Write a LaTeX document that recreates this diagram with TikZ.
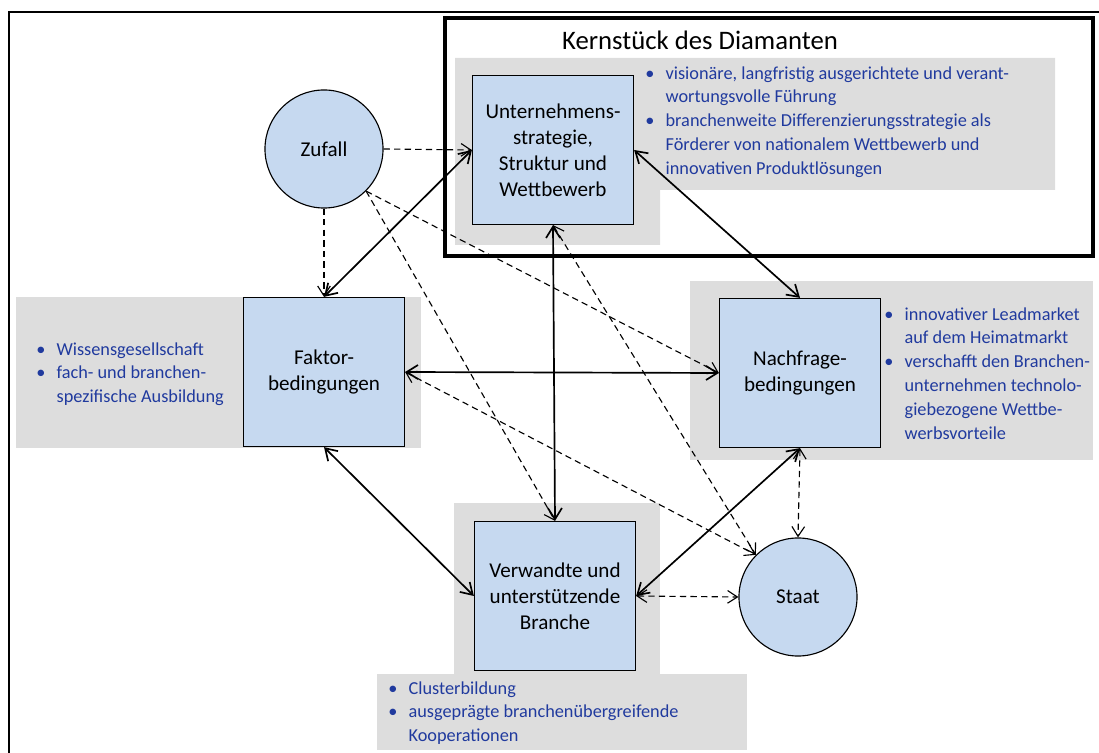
\documentclass[tikz,border=0pt]{standalone}
\usepackage{fontspec}
\setmainfont{Carlito}
\usetikzlibrary{arrows.meta}
\definecolor{boxblue}{RGB}{198,217,240}
\definecolor{panelgray}{RGB}{221,221,221}
\definecolor{bullblue}{RGB}{32,58,158}
\newcommand{\bultext}[1]{{\fontsize{13}{17}\selectfont\begin{tabular}{@{}l@{\hspace{8pt}}l@{}}#1\end{tabular}}}
\begin{document}
\begin{tikzpicture}[x=0.025cm,y=-0.025cm,
	kasten/.style={draw, line width=1pt, fill=boxblue, minimum width=4.02cm, minimum height=3.72cm, align=center, font=\fontsize{15}{18.5}\selectfont},
	kreis/.style={draw, line width=0.8pt, fill=boxblue, circle, minimum size=2.95cm, font=\fontsize{15}{18}\selectfont},
	liste/.style={anchor=north west, inner sep=0pt, text=bullblue},
	wirkung/.style={{Straight Barb[length=8pt,width=10pt]}-{Straight Barb[length=8pt,width=10pt]}, line width=1.2pt},
	einfluss/.style={-{Straight Barb[length=7pt,width=9pt]}, dash pattern=on 4.5pt off 3pt, line width=0.8pt},
	staatpfeil/.style={{Straight Barb[length=7pt,width=9pt]}-{Straight Barb[length=7pt,width=9pt]}, dash pattern=on 4.5pt off 3pt, line width=0.8pt}]
	\useasboundingbox (0,0) rectangle (1099,753);
	\clip (0,0) rectangle (1099,753);
	% rahmen
	\draw[line width=1.8pt] (9,800) -- (9,12) -- (1150,12);
	\draw[line width=3pt] (445,18) rectangle (1093,256);
	\node[font=\fontsize{19}{23}\selectfont] (titel) at (700,40) {Kernstück des Diamanten};
	% graue felder
	\fill[panelgray] (455,58) -- (1055,58) -- (1055,190) -- (660,190) -- (660,245) -- (455,245) -- cycle;
	\fill[panelgray] (16,297) rectangle (421,448);
	\fill[panelgray] (690,281) rectangle (1093,460);
	\fill[panelgray] (454,503) rectangle (660,674);
	\fill[panelgray] (377,674) rectangle (747,750);
	% kasten und kreise
	\node[kasten] (ustrat) at (553,150) {Unternehmens-\\strategie,\\Struktur und\\Wettbewerb};
	\node[kasten] (faktor) at (324,372) {Faktor-\\bedingungen};
	\node[kasten] (nachfrage) at (800,373) {Nachfrage-\\bedingungen};
	\node[kasten] (verwandte) at (555,596) {Verwandte und\\unterstützende\\Branche};
	\node[kreis] (zufall) at (324,149) {Zufall};
	\node[kreis] (staat) at (798,597) {Staat};
	% listen
	\node[liste] (ustratliste) at (645,62) {\bultext{\textbullet & visionäre, langfristig ausgerichtete und verant-\\ & wortungsvolle Führung\\ \textbullet & branchenweite Differenzierungsstrategie als\\ & Förderer von nationalem Wettbewerb und\\ & innovativen Produktlösungen}};
	\node[liste] (faktorliste) at (36,338) {\bultext{\textbullet & Wissensgesellschaft\\ \textbullet & fach- und branchen-\\ & spezifische Ausbildung}};
	\node[liste] (nachfrageliste) at (884,303) {\bultext{\textbullet & innovativer Leadmarket\\ & auf dem Heimatmarkt\\ \textbullet & verschafft den Branchen-\\ & unternehmen technolo-\\ & giebezogene Wettbe-\\ & werbsvorteile}};
	\node[liste] (verwandteliste) at (388,677) {\bultext{\textbullet & Clusterbildung\\ \textbullet & ausgeprägte branchenübergreifende\\ & Kooperationen}};
	% wechselwirkungen
	\draw[wirkung] (ustrat.west) -- (faktor.north);
	\draw[wirkung] (ustrat.east) -- (nachfrage.north);
	\draw[wirkung] (ustrat.south) -- (verwandte.north);
	\draw[wirkung] (faktor.east) -- (nachfrage.west);
	\draw[wirkung] (faktor.south) -- (verwandte.west);
	\draw[wirkung] (nachfrage.south) -- (verwandte.east);
	% zufall
	\draw[einfluss] (zufall.east) -- (ustrat.west);
	\draw[einfluss] (zufall.south) -- (faktor.north);
	\draw[einfluss] (zufall.-45) -- (nachfrage.west);
	\draw[einfluss] (zufall.-45) -- (verwandte.north);
	% staat
	\draw[staatpfeil] (ustrat.south) -- (staat.135);
	\draw[staatpfeil] (faktor.east) -- (staat.135);
	\draw[staatpfeil] (nachfrage.south) -- (staat.north);
	\draw[staatpfeil] (verwandte.east) -- (staat.west);
\end{tikzpicture}
\end{document}
